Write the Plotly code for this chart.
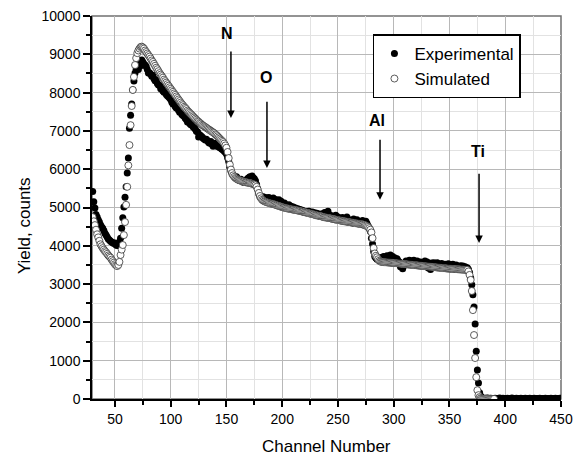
import plotly.graph_objects as go

# Channel numbers
exp_channels = list(range(30, 451))
sim_channels = list(range(30, 391))

# Experimental yield (counts), channels 30..450
experimental = [
    5420, 5150, 4990, 4820, 4750, 4680, 4620, 4550, 4500, 4460,
    4400, 4330, 4280, 4230, 4180, 4150, 4120, 4100, 4080, 4060,
    4070, 4020, 4010, 4020, 4100, 4200, 4460, 4730, 5010, 5270,
    5540, 5900, 6290, 7070, 7410, 7700, 8070, 8300, 8510, 8600,
    8720, 8600, 8800, 8700, 8850, 8800, 8750, 8720, 8680, 8600,
    8510, 8520, 8480, 8430, 8450, 8360, 8310, 8330, 8240, 8200,
    8190, 8100, 8130, 8040, 8010, 8030, 7950, 7920, 7890, 7860,
    7820, 7750, 7700, 7720, 7640, 7600, 7620, 7540, 7490, 7510,
    7430, 7400, 7380, 7330, 7300, 7230, 7260, 7190, 7160, 7180,
    7110, 7080, 7050, 6990, 6980, 6840, 6900, 6870, 6850, 6810,
    6790, 6760, 6780, 6740, 6700, 6680, 6720, 6650, 6600, 6640,
    6680, 6620, 6590, 6600, 6560, 6550, 6520, 6500, 6470, 6440,
    6400, 6300, 6200, 6050, 5950, 5880, 5850, 5820, 5780, 5800,
    5750, 5720, 5700, 5740, 5690, 5660, 5700, 5680, 5720, 5760,
    5780, 5800, 5780, 5820, 5770, 5750, 5700, 5600, 5480, 5350,
    5280, 5250, 5230, 5280, 5220, 5260, 5200, 5240, 5260, 5180,
    5220, 5200, 5250, 5170, 5210, 5180, 5150, 5200, 5120, 5160,
    5100, 5080, 5120, 5050, 5060, 5020, 5070, 5000, 5030, 4980,
    5010, 4960, 4990, 4940, 4970, 4920, 4950, 4900, 4930, 4880,
    4900, 4870, 4890, 4860, 4900, 4870, 4850, 4880, 4830, 4860,
    4820, 4850, 4800, 4830, 4790, 4820, 4840, 4800, 4870, 4820,
    4780, 4900, 4760, 4800, 4740, 4780, 4720, 4760, 4800, 4700,
    4750, 4690, 4720, 4680, 4740, 4660, 4700, 4650, 4750, 4640,
    4680, 4620, 4660, 4600, 4700, 4590, 4640, 4680, 4580, 4620,
    4570, 4600, 4660, 4620, 4560, 4640, 4580, 4520, 4460, 4380,
    4200, 4050, 3850, 3720, 3680, 3650, 3700, 3640, 3680, 3660,
    3700, 3720, 3650, 3700, 3740, 3680, 3710, 3760, 3690, 3720,
    3650, 3680, 3620, 3660, 3600, 3580, 3450, 3500, 3400, 3480,
    3560, 3600, 3520, 3580, 3620, 3540, 3600, 3560, 3620, 3580,
    3540, 3600, 3550, 3500, 3580, 3540, 3480, 3560, 3600, 3520,
    3580, 3420, 3500, 3380, 3550, 3500, 3560, 3480, 3530, 3560,
    3500, 3520, 3480, 3540, 3460, 3500, 3520, 3450, 3490, 3530,
    3470, 3500, 3460, 3520, 3480, 3450, 3500, 3470, 3430, 3460,
    3480, 3440, 3470, 3420, 3450, 3400, 3430, 3380, 3300, 3160,
    2980, 2720, 2400, 1960, 1250, 760, 420, 160, 80, 40,
    20, 15, 20, 10, 25, 15, 10, 20, 5, 15,
    10, 20, 15, 5, 10, 25, 10, 15, 20, 5,
    10, 15, 20, 10, 5, 15, 25, 10, 15, 10,
    20, 5, 10, 15, 20, 10, 15, 5, 20, 10,
    15, 10, 20, 5, 15, 10, 20, 15, 10, 5,
    15, 20, 10, 15, 5, 10, 20, 15, 10, 15,
    5, 20, 10, 15, 10, 20, 5, 15, 10, 20,
    10,
]

# Simulated yield (counts), channels 30..390
simulated = [
    4750, 4640, 4540, 4420, 4300, 4220, 4130, 4040, 3990, 3940,
    3900, 3860, 3830, 3790, 3750, 3720, 3690, 3640, 3600, 3560,
    3520, 3490, 3470, 3500, 3580, 3760, 3900, 4020, 4280, 4620,
    5070, 5540, 6100, 6630, 7150, 7650, 8070, 8410, 8720, 8900,
    9030, 9100, 9150, 9190, 9200, 9180, 9150, 9100, 9060, 9020,
    8980, 8940, 8890, 8840, 8800, 8750, 8700, 8650, 8610, 8560,
    8510, 8470, 8430, 8390, 8340, 8300, 8260, 8220, 8180, 8140,
    8100, 8060, 8020, 7980, 7940, 7900, 7860, 7820, 7780, 7740,
    7700, 7670, 7630, 7600, 7570, 7530, 7500, 7470, 7440, 7410,
    7380, 7350, 7320, 7290, 7260, 7240, 7210, 7190, 7160, 7140,
    7120, 7100, 7080, 7060, 7040, 7020, 7000, 6980, 6960, 6940,
    6910, 6890, 6860, 6830, 6800, 6770, 6740, 6710, 6670, 6620,
    6560, 6450, 6290, 6120, 5990, 5900, 5840, 5800, 5770, 5750,
    5730, 5720, 5710, 5700, 5690, 5680, 5670, 5660, 5660, 5650,
    5640, 5640, 5630, 5620, 5610, 5600, 5580, 5540, 5470, 5380,
    5300, 5240, 5200, 5180, 5160, 5150, 5140, 5130, 5120, 5110,
    5100, 5100, 5090, 5080, 5070, 5060, 5050, 5040, 5030, 5020,
    5010, 5000, 4995, 4990, 4980, 4975, 4970, 4960, 4955, 4950,
    4945, 4940, 4935, 4930, 4920, 4915, 4910, 4900, 4895, 4890,
    4880, 4870, 4865, 4860, 4850, 4840, 4835, 4830, 4820, 4810,
    4800, 4795, 4790, 4780, 4775, 4770, 4760, 4750, 4745, 4740,
    4735, 4730, 4725, 4720, 4710, 4705, 4700, 4690, 4685, 4680,
    4675, 4670, 4660, 4655, 4650, 4645, 4640, 4635, 4630, 4625,
    4620, 4615, 4610, 4605, 4600, 4595, 4590, 4585, 4580, 4575,
    4570, 4565, 4560, 4550, 4540, 4530, 4510, 4490, 4460, 4420,
    4350, 4200, 3940, 3800, 3740, 3700, 3650, 3610, 3590, 3580,
    3578, 3575, 3572, 3570, 3567, 3565, 3562, 3560, 3557, 3555,
    3552, 3549, 3546, 3543, 3540, 3537, 3534, 3531, 3528, 3525,
    3522, 3519, 3516, 3513, 3510, 3507, 3504, 3501, 3498, 3495,
    3492, 3489, 3486, 3483, 3480, 3477, 3474, 3471, 3468, 3465,
    3462, 3459, 3456, 3453, 3450, 3447, 3444, 3441, 3438, 3435,
    3432, 3429, 3426, 3423, 3420, 3417, 3414, 3411, 3408, 3405,
    3403, 3401, 3399, 3397, 3395, 3393, 3391, 3389, 3387, 3385,
    3383, 3381, 3379, 3377, 3375, 3373, 3371, 3330, 3240, 3110,
    2820, 2320, 1670, 1070, 570, 230, 100, 50, 25, 15,
    10, 8, 6, 5, 5, 4, 4, 3, 3, 2, 2,
]

# Element edge labels and arrow positions
elements = ["N", "O", "Al", "Ti"]
label_x = [150.5, 185.5, 285.0, 375.6]
label_y = [9550, 8400, 7280, 6450]
arrow_x = [154.0, 186.3, 287.7, 376.5]
arrow_top = [9110, 7800, 6810, 5920]
arrow_tip = [7340, 6030, 5200, 4075]

FONT = "Liberation Sans, Arial, sans-serif"

fig = go.Figure()
fig.add_trace(go.Scatter(
    x=exp_channels, y=experimental, mode="markers", name="Experimental",
    marker=dict(symbol="circle", size=7, color="black", line=dict(width=0)),
))
fig.add_trace(go.Scatter(
    x=sim_channels, y=simulated, mode="markers", name="Simulated",
    marker=dict(symbol="circle", size=7, color="white", line=dict(width=0.8, color="#333333")),
))

annotations = []
for name, lx, ly, axx, at, tip in zip(elements, label_x, label_y, arrow_x, arrow_top, arrow_tip):
    annotations.append(dict(
        x=lx, y=ly, xref="x", yref="y", text="<b>%s</b>" % name, showarrow=False,
        font=dict(family=FONT, size=16, color="black"),
    ))
    annotations.append(dict(
        x=axx, y=tip, ax=axx, ay=at, xref="x", yref="y", axref="x", ayref="y",
        text="", showarrow=True, arrowhead=2, arrowsize=1.0, arrowwidth=1.5,
        arrowcolor="black", standoff=0, startstandoff=0,
    ))

annotations.append(dict(
    x=-0.145, y=0.454, xref="paper", yref="paper", text="Yield, counts",
    textangle=-90, showarrow=False, font=dict(family=FONT, size=17, color="black"),
    xanchor="center", yanchor="middle",
))
annotations.append(dict(
    x=0.5, y=-0.125, xref="paper", yref="paper", text="Channel Number",
    showarrow=False, font=dict(family=FONT, size=17, color="black"),
    xanchor="center", yanchor="middle",
))

fig.update_layout(
    width=578, height=460,
    margin=dict(l=92, r=17, t=16, b=61, autoexpand=False),
    paper_bgcolor="white", plot_bgcolor="white",
    font=dict(family=FONT, size=14, color="black"),
    showlegend=True,
    legend=dict(
        x=0.599, y=0.952, xanchor="left", yanchor="top",
        bgcolor="white", bordercolor="black", borderwidth=1.5,
        font=dict(family=FONT, size=17, color="black"),
        itemsizing="trace",
    ),
    annotations=annotations,
    shapes=[dict(type="rect", xref="paper", yref="paper", x0=0, y0=0, x1=1, y1=1,
                 line=dict(color="#707070", width=1.5), layer="below")],
)

fig.update_xaxes(
    range=[29.4, 450], tickmode="linear", tick0=50, dtick=50, automargin=False,
    ticks="outside", ticklen=6, tickwidth=1.5, tickcolor="black",
    showline=True, linecolor="black", linewidth=1.5,
    showgrid=True, gridcolor="#b8b8b8", gridwidth=1, zeroline=False,
    tickfont=dict(family=FONT, size=14, color="black"),
    minor=dict(dtick=25, tick0=0, ticks="outside", ticklen=4, tickcolor="black",
               tickwidth=1.5, showgrid=True, gridcolor="#e2e2e2", gridwidth=1),
)
fig.update_yaxes(
    range=[0, 10000], tickmode="linear", tick0=0, dtick=1000, tickformat="d",
    automargin=False,
    ticks="outside", ticklen=7, tickwidth=1.5, tickcolor="black",
    showline=True, linecolor="black", linewidth=1.5,
    showgrid=True, gridcolor="#b8b8b8", gridwidth=1, zeroline=False,
    tickfont=dict(family=FONT, size=14, color="black"),
    minor=dict(dtick=500, tick0=0, ticks="outside", ticklen=4, tickcolor="black",
               tickwidth=1.5, showgrid=True, gridcolor="#e2e2e2", gridwidth=1),
)

fig.write_html(
    "out.html",
    config={"displayModeBar": False},
    post_script="document.body.style.margin='0';document.body.style.overflow='hidden';",
)
